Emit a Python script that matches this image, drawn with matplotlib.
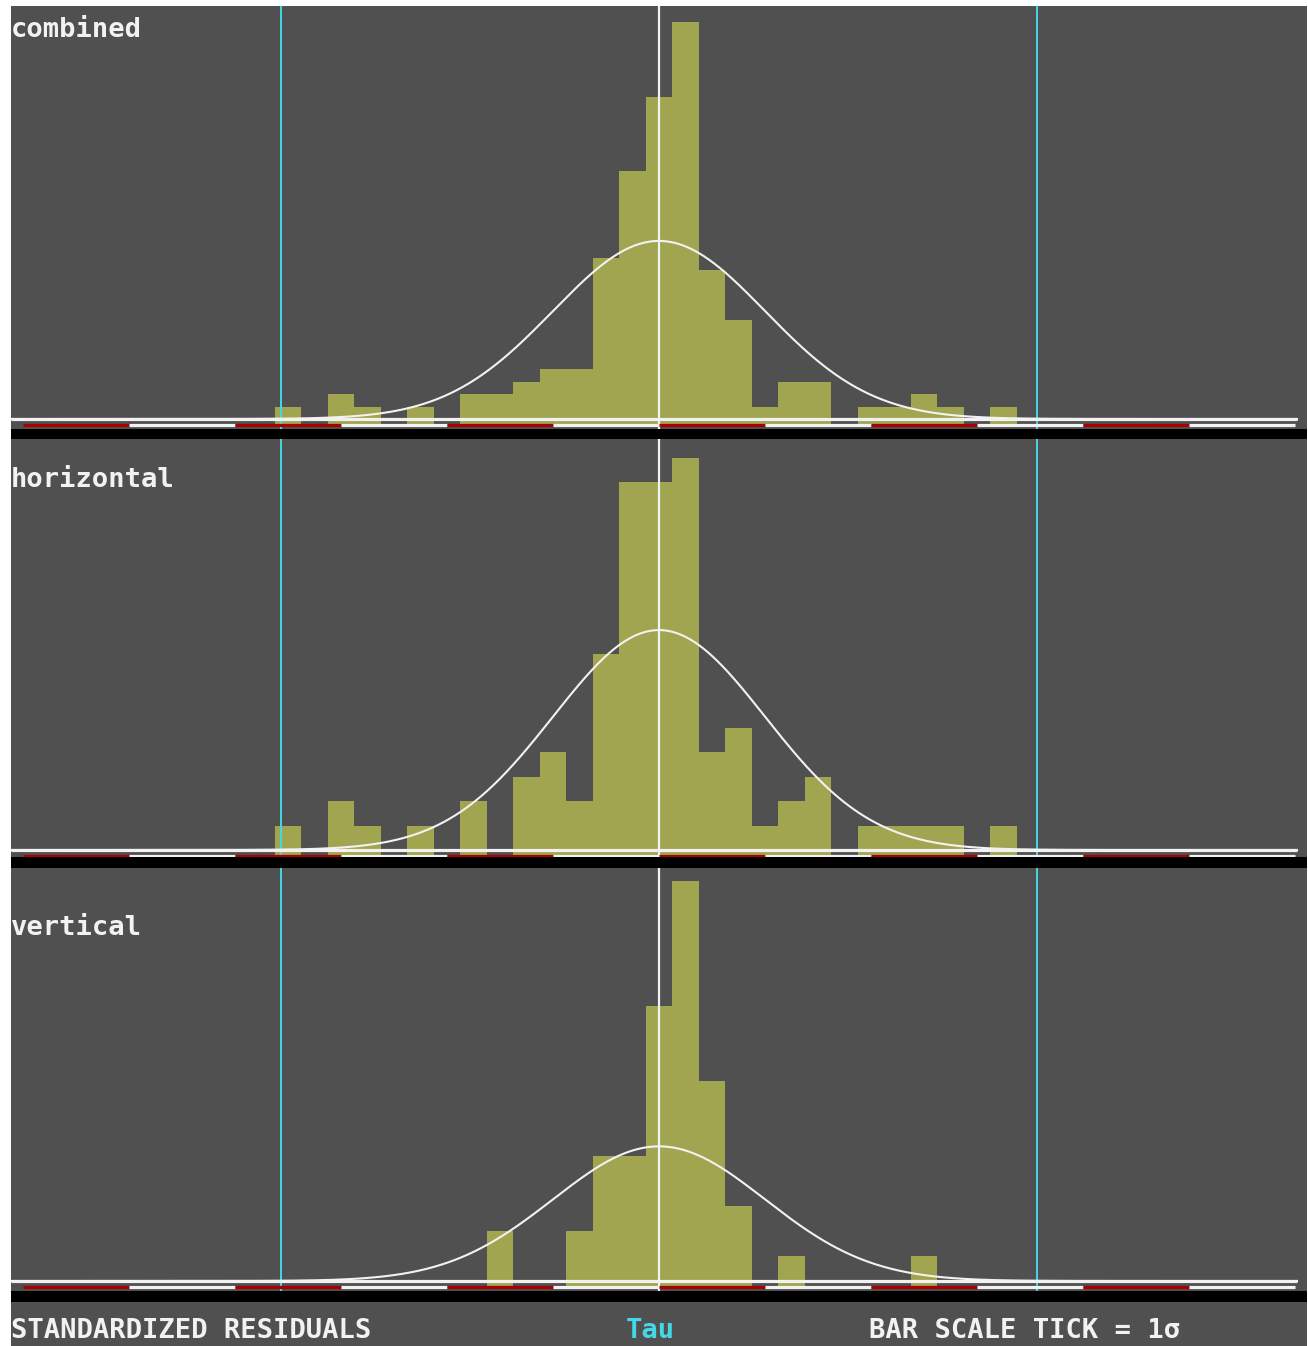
import numpy as np
import matplotlib
matplotlib.use("Agg")
import matplotlib.pyplot as plt
from matplotlib.patches import Rectangle

# ---------------- data ----------------
bin_centers = [-3.5 + 0.25 * k for k in range(28)]   # in units of sigma
bin_width = 0.25
combined = [1, 0, 2, 1, 0, 1, 0, 2, 2, 3, 4, 4, 13, 20, 26, 32, 12, 8, 1, 3,
            3, 0, 1, 1, 2, 1, 0, 1]
horizontal = [1, 0, 2, 1, 0, 1, 0, 2, 0, 3, 4, 2, 8, 15, 15, 16, 4, 5, 1, 2,
              3, 0, 1, 1, 1, 1, 0, 1]
vertical = [0, 0, 0, 0, 0, 0, 0, 0, 2, 0, 0, 2, 5, 5, 11, 16, 8, 3, 0, 1,
            0, 0, 0, 0, 1, 0, 0, 0]
panel_labels = ["combined", "horizontal", "vertical"]
limit_lines = [-3.57, 3.57]
scale_ticks = list(range(-6, 7))          # 1 sigma bar-scale segments
footer_left = "STANDARDIZED RESIDUALS"
footer_mid = "Tau"
footer_right = "BAR SCALE TICK = 1\u03c3"

# ---------------- style / layout ----------------
W, H = 1308, 1346
GRAY = "#505050"
OLIVE = "#a1a550"
RED = "#a80000"
CYAN = "#44d8e6"
WHITE = "#f2f2f2"
FONT = dict(family="DejaVu Sans Mono", weight="bold", size=19.5)

PX0, SIG = 659.0, 106.0   # pixel of zero and pixels per sigma
X_LEFT, X_RIGHT = 11, 1307

# top px, bottom px, baseline px, px per count, tick-line px, label baseline px
panels = [
    (6, 429, 419, 12.4, 424.5, 37),
    (439, 857, 850, 24.5, 855.5, 487),
    (868, 1291, 1281, 25.0, 1286.5, 935),
]
series = [combined, horizontal, vertical]

fig = plt.figure(figsize=(W / 100, H / 100), dpi=100, facecolor="white")

# gray background of the whole display
fig.patches.append(Rectangle((X_LEFT / W, 0), (X_RIGHT - X_LEFT) / W, 1 - 6 / H,
                             transform=fig.transFigure, facecolor=GRAY,
                             edgecolor="none", zorder=-2))
# black separator strips
for y0, y1 in [(429, 439), (857, 868), (1291, 1302)]:
    fig.patches.append(Rectangle((X_LEFT / W, 1 - y1 / H), (X_RIGHT - X_LEFT) / W,
                                 (y1 - y0) / H, transform=fig.transFigure,
                                 facecolor="black", edgecolor="none", zorder=-1))

xmin = (X_LEFT - PX0) / SIG
xmax = (X_RIGHT - PX0) / SIG
xs = np.linspace(xmin, (1297 - PX0) / SIG, 1200)

for (top, bot, base, unit, tick, lab_y), counts, label in zip(panels, series, panel_labels):
    ax = fig.add_axes([X_LEFT / W, 1 - bot / H, (X_RIGHT - X_LEFT) / W, (bot - top) / H])
    ax.set_facecolor(GRAY)
    ax.set_xlim(xmin, xmax)
    ax.set_ylim(-(bot - base) / unit, (base - top) / unit)
    for s in ax.spines.values():
        s.set_visible(False)
    ax.set_xticks([])
    ax.set_yticks([])

    c = np.array(counts, dtype=float)
    centers = np.array(bin_centers)
    tick_y = -(tick - base) / unit
    m = c > 0
    ax.bar(centers[m], c[m] - tick_y, bottom=tick_y, width=bin_width,
           color=OLIVE, edgecolor="none", linewidth=0, zorder=1)

    # fitted normal curve (sigma = 1)
    n = c.sum()
    g = n * bin_width * np.exp(-0.5 * xs ** 2) / np.sqrt(2 * np.pi)
    ax.plot(xs, g, color=WHITE, lw=1.5, zorder=4)

    # vertical reference lines
    for lx in limit_lines:
        ax.axvline(lx, color=CYAN, lw=1.4, zorder=3)
    ax.axvline(0, color=WHITE, lw=1.6, zorder=3)

    # baseline
    ax.plot([xmin, (1297 - PX0) / SIG], [0, 0], color=WHITE, lw=2.3, zorder=5,
            solid_capstyle="butt")
    # bar scale (1 sigma segments, alternating red / white)
    for a, b in zip(scale_ticks[:-1], scale_ticks[1:]):
        col = RED if (a % 2 == 0) else WHITE
        ax.plot([a, b], [tick_y, tick_y], color=col, lw=2.3, zorder=5,
                solid_capstyle="butt")

    fig.text(X_LEFT / W, 1 - lab_y / H, label, color=WHITE, va="baseline",
             ha="left", **FONT)

fig.text(X_LEFT / W, 1 - 1338 / H, footer_left, color=WHITE, va="baseline", ha="left", **FONT)
fig.text(650 / W, 1 - 1338 / H, footer_mid, color=CYAN, va="baseline", ha="center", **FONT)
fig.text(869 / W, 1 - 1338 / H, footer_right, color=WHITE, va="baseline", ha="left", **FONT)

fig.savefig("out.png", dpi=100, facecolor="white")
